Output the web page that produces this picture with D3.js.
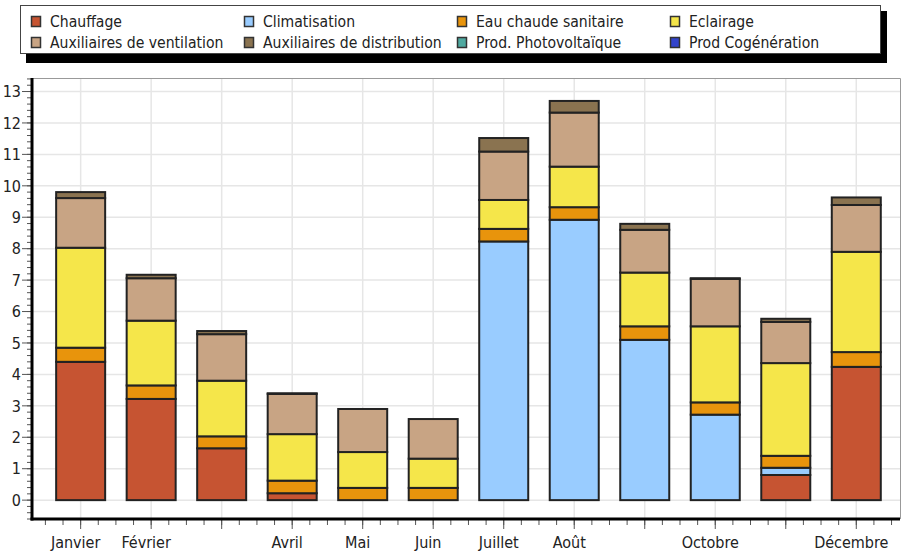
<!DOCTYPE html>
<html>
<head>
<meta charset="utf-8">
<script src="https://cdn.jsdelivr.net/npm/d3@7"></script>
<style>
  html, body { margin: 0; padding: 0; background: #fff; }
  svg { display: block; }
  text { font-family: "DejaVu Sans Condensed", "DejaVu Sans", sans-serif; fill: #222; }
</style>
</head>
<body>
<svg id="chart" width="905" height="553"></svg>
<script>
// Monthly energy breakdown, stacked by end use
const months = ["Janvier","Février","Mars","Avril","Mai","Juin","Juillet","Août","Septembre","Octobre","Novembre","Décembre"];
const monthTickLabels = ["Janvier","Février","","Avril","Mai","Juin","Juillet","Août","","Octobre","","Décembre"];

const seriesNames = ["Chauffage","Climatisation","Eau chaude sanitaire","Eclairage","Auxiliaires de ventilation","Auxiliaires de distribution","Prod. Photovoltaïque","Prod Cogénération"];
const seriesColors = ["#c65432","#99ccff","#e8940c","#f5e64a","#c8a484","#8a7350","#4fa9a0","#3344cc"];

const chauffage      = [4.40, 3.22, 1.65, 0.22, 0, 0, 0, 0, 0, 0, 0.80, 4.24];
const climatisation  = [0, 0, 0, 0, 0, 0, 8.23, 8.92, 5.10, 2.72, 0.23, 0];
const eauChaude      = [0.45, 0.43, 0.38, 0.40, 0.39, 0.39, 0.40, 0.40, 0.43, 0.39, 0.38, 0.47];
const eclairage      = [3.18, 2.06, 1.77, 1.48, 1.14, 0.93, 0.92, 1.29, 1.71, 2.42, 2.95, 3.19];
const ventilation    = [1.58, 1.35, 1.48, 1.28, 1.37, 1.26, 1.54, 1.72, 1.36, 1.51, 1.31, 1.49];
const distribution   = [0.19, 0.11, 0.10, 0.02, 0, 0, 0.43, 0.37, 0.19, 0.02, 0.10, 0.24];
const photovoltaique = [0, 0, 0, 0, 0, 0, 0, 0, 0, 0, 0, 0];
const cogeneration   = [0, 0, 0, 0, 0, 0, 0, 0, 0, 0, 0, 0];

const seriesValues = [chauffage, climatisation, eauChaude, eclairage, ventilation, distribution, photovoltaique, cogeneration];
const yTickValues = d3.range(0, 14);

const svg = d3.select("#chart");

// ---- legend ----
const legend = svg.append("g");
legend.append("rect").attr("x", 26).attr("y", 11).attr("width", 861).attr("height", 52).attr("fill", "#000");
legend.append("rect").attr("x", 20.5).attr("y", 5.5).attr("width", 860).attr("height", 48)
  .attr("fill", "#fff").attr("stroke", "#444").attr("stroke-width", 1);
const legendCols = [31, 244, 457, 670];
seriesNames.forEach((name, i) => {
  const col = i % 4, row = Math.floor(i / 4);
  const lx = legendCols[col], ly = 21 + row * 21;
  legend.append("rect").attr("x", lx + 0.5).attr("y", ly - 4.5).attr("width", 9).attr("height", 10)
    .attr("fill", seriesColors[i]).attr("stroke", "#333").attr("stroke-width", 1.5);
  legend.append("text").attr("x", lx + 19).attr("y", ly + 1).attr("dy", "0.35em")
    .style("font-size", "15.6px").text(name);
});

// ---- scales ----
const plotLeft = 32, plotRight = 900, plotTop = 78, plotBottom = 519;
const x = d3.scaleLinear().domain([0.31, 12.62]).range([plotLeft, plotRight]);
const y = d3.scaleLinear().domain([-0.6, 13.43]).range([plotBottom, plotTop]);
const barW = x(1.695) - x(1);

// ---- grid ----
const grid = svg.append("g");
grid.selectAll("line.h").data(yTickValues).join("line")
  .attr("x1", plotLeft).attr("x2", plotRight).attr("y1", d => y(d)).attr("y2", d => y(d))
  .attr("stroke", "#e6e6e6").attr("stroke-width", 1.5);
grid.selectAll("line.v").data(months).join("line")
  .attr("x1", (d, i) => x(i + 1)).attr("x2", (d, i) => x(i + 1))
  .attr("y1", plotTop).attr("y2", plotBottom)
  .attr("stroke", "#e6e6e6").attr("stroke-width", 1.5);
// plot frame (top / right)
svg.append("path").attr("d", `M${plotLeft},${plotTop + 0.5}H${plotRight + 0.5}V${plotBottom}`)
  .attr("fill", "none").attr("stroke", "#999").attr("stroke-width", 1);

// ---- stacked bars ----
const table = months.map((m, i) => {
  const row = { month: m, idx: i + 1 };
  seriesNames.forEach((s, k) => row[s] = seriesValues[k][i]);
  return row;
});
const stacked = d3.stack().keys(seriesNames)(table);
const bars = svg.append("g");
stacked.forEach((layer, k) => {
  bars.selectAll(null).data(layer.filter(d => d[1] - d[0] > 0)).join("rect")
    .attr("x", d => x(d.data.idx) - barW / 2)
    .attr("width", barW)
    .attr("y", d => y(d[1]))
    .attr("height", d => y(d[0]) - y(d[1]))
    .attr("fill", seriesColors[k])
    .attr("stroke", "#222")
    .attr("stroke-width", 2);
});

// ---- y axis ----
const yAxisG = svg.append("g");
yAxisG.selectAll("line.minor").data(d3.range(-0.6, 13.41, 0.2).map(v => Math.round(v * 10) / 10)).join("line")
  .attr("x1", plotLeft - 5).attr("x2", plotLeft).attr("y1", d => y(d)).attr("y2", d => y(d))
  .attr("stroke", "#555").attr("stroke-width", 1);
yAxisG.selectAll("line.major").data(yTickValues).join("line")
  .attr("x1", plotLeft - 10).attr("x2", plotLeft).attr("y1", d => y(d)).attr("y2", d => y(d))
  .attr("stroke", "#555").attr("stroke-width", 1);
yAxisG.selectAll("text").data(yTickValues).join("text")
  .attr("x", 21).attr("y", d => y(d)).attr("dy", "0.36em")
  .attr("text-anchor", "end").style("font-size", "16px").text(d => d);

// ---- x axis ----
const xAxisG = svg.append("g");
xAxisG.selectAll("line.minor").data(d3.range(0.5, 12.6, 0.25)).join("line")
  .attr("x1", d => x(d)).attr("x2", d => x(d)).attr("y1", plotBottom).attr("y2", plotBottom + 6)
  .attr("stroke", "#555").attr("stroke-width", 1);
xAxisG.selectAll("line.major").data(months).join("line")
  .attr("x1", (d, i) => x(i + 1)).attr("x2", (d, i) => x(i + 1)).attr("y1", plotBottom).attr("y2", plotBottom + 10)
  .attr("stroke", "#555").attr("stroke-width", 1);
xAxisG.selectAll("text").data(monthTickLabels).join("text")
  .attr("x", (d, i) => x(i + 1) - 5).attr("y", 548)
  .attr("text-anchor", "middle").style("font-size", "16px").text(d => d);

// axis lines
svg.append("line").attr("x1", plotLeft).attr("x2", plotLeft).attr("y1", plotTop).attr("y2", plotBottom + 1.5)
  .attr("stroke", "#000").attr("stroke-width", 3);
svg.append("line").attr("x1", plotLeft - 1.5).attr("x2", plotRight).attr("y1", plotBottom).attr("y2", plotBottom)
  .attr("stroke", "#000").attr("stroke-width", 3);
</script>
</body>
</html>
